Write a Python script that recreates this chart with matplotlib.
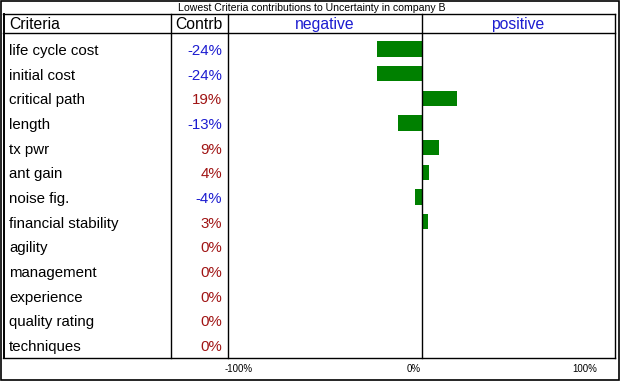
import matplotlib
matplotlib.use("Agg")
import matplotlib.pyplot as plt
from matplotlib.lines import Line2D
from matplotlib.patches import Rectangle
from matplotlib.transforms import blended_transform_factory, offset_copy

plt.rcParams['font.family'] = ['Liberation Sans', 'DejaVu Sans']

# data
criteria = ["life cycle cost", "initial cost", "critical path", "length", "tx pwr",
            "ant gain", "noise fig.", "financial stability", "agility", "management",
            "experience", "quality rating", "techniques"]
contrib = [-24, -24, 19, -13, 9, 4, -4, 3, 0, 0, 0, 0, 0]
tick_labels = ["-100%", "0%", "100%"]
title = "Lowest Criteria contributions to Uncertainty in company B"

W, H = 620, 381
BLUE = "#1c1cd0"
RED = "#a01414"
GREEN = "#008000"

fig = plt.figure(figsize=(W / 100, H / 100), dpi=100)


def fx(px):
    return px / W


def fy(py):
    return 1 - py / H


def hline(y, x0, x1, lw=1.0):
    fig.add_artist(Line2D([fx(x0), fx(x1)], [fy(y), fy(y)], color="black", lw=lw,
                          transform=fig.transFigure))


def vline(x, y0, y1, lw=1.0):
    fig.add_artist(Line2D([fx(x), fx(x)], [fy(y0), fy(y1)], color="black", lw=lw,
                          transform=fig.transFigure))


# chart area
ax = fig.add_axes([fx(228), fy(358), fx(615) - fx(228), fy(33) - fy(358)])
rows = list(range(len(criteria)))
ax.barh(rows, contrib, height=0.63, color=GREEN)
ax.set_xlim(-104.3, 103.8)
ax.set_ylim(len(criteria) - 1 + 0.53, -0.65)
ax.axis("off")

# outer frame
fig.add_artist(Rectangle((fx(0.5), fy(380)), fx(619) - fx(0.5), fy(0.5) - fy(380),
                         fill=False, ec="black", lw=1.2, transform=fig.transFigure))

# table frame
hline(14, 3, 615)
hline(33, 3, 615)
hline(358, 3, 615)
vline(3.5, 14, 358, lw=1.4)
vline(171, 14, 358)
vline(228, 14, 358)
vline(615, 14, 358)
# zero line through header, from the chart scale
zt = blended_transform_factory(ax.transData, fig.transFigure)
fig.add_artist(Line2D([0, 0], [fy(14), fy(358)], color="black", lw=1.0, transform=zt))

# title and headers
fig.text(fx(312), fy(8), title, ha="center", va="center", fontsize=7.6)
fig.text(fx(9), fy(24.5), "Criteria", ha="left", va="center", fontsize=11.3)
fig.text(fx(222), fy(24.5), "Contrb", ha="right", va="center", fontsize=11.3)
fig.text(fx(325), fy(24.5), "negative", ha="center", va="center", fontsize=11.3, color=BLUE)
fig.text(fx(518), fy(24.5), "positive", ha="center", va="center", fontsize=11.3, color=BLUE)

# row texts, placed with the chart's row scale (nudged down 2 px)
rt = offset_copy(blended_transform_factory(fig.transFigure, ax.transData),
                 fig=fig, y=-2, units="dots")
for i, (name, v) in enumerate(zip(criteria, contrib)):
    fig.text(fx(9), i, name, ha="left", va="center", fontsize=10.8, transform=rt)
    fig.text(fx(222), i, f"{v}%", ha="right", va="center", fontsize=10.8,
             color=BLUE if v < 0 else RED, transform=rt)

# axis labels below
for lbl, px in zip(tick_labels, [253, 421, 597]):
    fig.text(fx(px), fy(369), lbl, ha="right", va="center", fontsize=7)

fig.savefig("out.png", dpi=100)
